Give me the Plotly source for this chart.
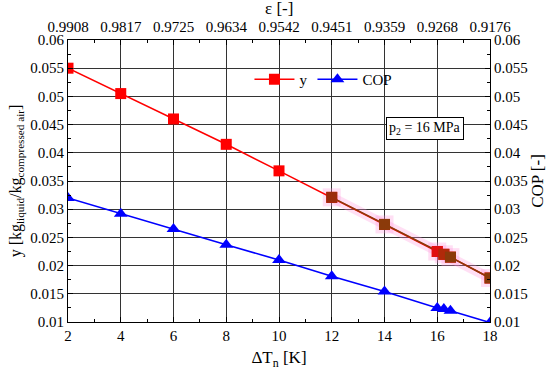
import plotly.graph_objects as go

dT = [2, 4, 6, 8, 10, 12, 14, 16, 16.25, 16.5, 18]
y_vals = [0.0550, 0.0505, 0.0460, 0.0415, 0.0368, 0.0321, 0.0273, 0.0225, 0.0220, 0.0215, 0.0178]
cop_vals = [0.0320, 0.0292, 0.0265, 0.0237, 0.0210, 0.0181, 0.0154, 0.0125, 0.0123, 0.0120, 0.0099]
eps_ticks = [2, 4, 6, 8, 10, 12, 14, 16, 18]
eps_labels = ["0.9908", "0.9817", "0.9725", "0.9634", "0.9542", "0.9451", "0.9359", "0.9268", "0.9176"]
# highlighted (brownish) part of the y series
hi_idx = [5, 6, 7, 8, 9, 10]
hi_marker_colors = ["#9b2c0c", "#8b3a0a", "#e01010", "#b02a0a", "#8b3a0a", "#8b3a0a"]

FONT = "Liberation Serif, Times New Roman, serif"
RED = "#ff0000"
BLUE = "#0000ff"
BROWN = "#8b3a0a"

fig = go.Figure()

hx = [dT[i] for i in hi_idx]
hy = [y_vals[i] for i in hi_idx]

# pink halo
fig.add_trace(go.Scatter(x=hx, y=hy, mode="lines+markers", showlegend=False, hoverinfo="skip",
                         line=dict(color="rgba(255,150,220,0.3)", width=10),
                         marker=dict(symbol="square", size=18, color="rgba(255,150,220,0.3)")))

fig.add_trace(go.Scatter(x=dT, y=y_vals, mode="lines+markers", name="y",
                         line=dict(color=RED, width=1.6),
                         marker=dict(symbol="square", size=11, color=RED)))
fig.add_trace(go.Scatter(x=hx, y=hy, mode="lines+markers", showlegend=False,
                         line=dict(color=BROWN, width=1.6),
                         marker=dict(symbol="square", size=11, color=hi_marker_colors)))
fig.add_trace(go.Scatter(x=dT, y=cop_vals, mode="lines+markers", name="COP",
                         line=dict(color=BLUE, width=1.6),
                         marker=dict(symbol="triangle-up", size=12, color=BLUE)))
# invisible traces for secondary axes
fig.add_trace(go.Scatter(x=[2, 18], y=[0.01, 0.06], xaxis="x2", mode="markers",
                         marker=dict(opacity=0), showlegend=False, hoverinfo="skip"))
fig.add_trace(go.Scatter(x=[2, 18], y=[0.01, 0.06], yaxis="y2", mode="markers",
                         marker=dict(opacity=0), showlegend=False, hoverinfo="skip"))

axis_common = dict(showline=True, linecolor="black", linewidth=1.2, mirror=False,
                   ticks="inside", ticklen=5, tickcolor="black", zeroline=False, automargin=False,
                   tickfont=dict(family=FONT, size=15, color="black"))

fig.update_layout(
    width=550, height=377,
    margin=dict(l=68, r=60, t=40, b=55),
    paper_bgcolor="white", plot_bgcolor="white",
    font=dict(family=FONT, size=15, color="black"),
    xaxis=dict(range=[2, 18], dtick=2, tick0=2, showgrid=True, gridcolor="#333", gridwidth=1,
               minor=dict(dtick=1, ticks="inside", ticklen=3, tickcolor="black", showgrid=False),
               title=dict(text="ΔT<sub>n</sub> [K]", font=dict(family=FONT, size=17), standoff=8),
               **axis_common),
    xaxis2=dict(range=[2, 18], overlaying="x", side="top", tickmode="array",
                tickvals=eps_ticks, ticktext=eps_labels, showgrid=False, ticklabelstandoff=1,
                minor=dict(dtick=1, tick0=2, ticks="inside", ticklen=3, tickcolor="black"),
                **axis_common),
    yaxis=dict(range=[0.01, 0.06], dtick=0.005, tick0=0.01, showgrid=True, gridcolor="#333", gridwidth=1,
               tickformat="~g",
               minor=dict(dtick=0.0025, ticks="inside", ticklen=3, tickcolor="black", showgrid=False),
               title=dict(text="y [kg<sub>liquid</sub>/kg<sub>compressed air</sub>]",
                          font=dict(family=FONT, size=16), standoff=4),
               **axis_common),
    yaxis2=dict(range=[0.01, 0.06], dtick=0.005, tick0=0.01, overlaying="y", side="right",
                showgrid=False, tickformat="~g",
                minor=dict(dtick=0.0025, ticks="inside", ticklen=3, tickcolor="black"),
                title=dict(text="COP [-]", font=dict(family=FONT, size=17), standoff=2),
                **axis_common),
    legend=dict(x=0.43, y=0.86, xanchor="left", yanchor="middle", orientation="h",
                bgcolor="rgba(0,0,0,0)", font=dict(family=FONT, size=15),
                itemwidth=40, tracegroupgap=0),
    annotations=[
        dict(xref="paper", yref="paper", x=0.5, y=0.685, xanchor="center", yanchor="middle",
             text="p<sub>2</sub> = 16 MPa", showarrow=False,
             font=dict(family=FONT, size=14, color="black"),
             bordercolor="black", borderwidth=1, borderpad=2, bgcolor="white"),
        dict(xref="paper", yref="paper", x=0.5, y=1.113, xanchor="center", yanchor="middle",
             text="ε [-]", showarrow=False, font=dict(family=FONT, size=17, color="black")),
    ],
    showlegend=True,
)
fig.layout.annotations[0].x = 0.845

fig.write_html("out.html", config={"displayModeBar": False},
               post_script="document.body.style.margin='0';document.body.style.padding='0';")
